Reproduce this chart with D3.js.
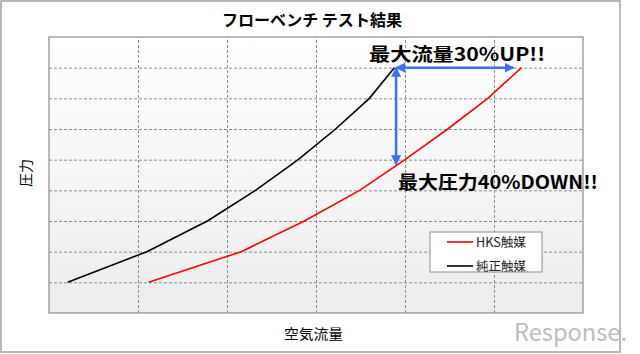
<!DOCTYPE html>
<html lang="ja">
<head>
<meta charset="UTF-8">
<title>フローベンチ テスト結果</title>
<script src="https://cdn.jsdelivr.net/npm/d3@7"></script>
<style>
  body { margin: 0; background: #fff; }
  text { font-family: "Noto Sans CJK JP", "Noto Sans", sans-serif; }
</style>
</head>
<body>
<script>
// データ (グラフから読み取り: x=空気流量, y=圧力, 任意単位)
const seriesNames = ["HKS触媒", "純正触媒"];
const seriesColors = ["#ff0000", "#000000"];
const hksX  = [1.12, 2.16, 2.87, 3.49, 4.0, 4.48, 4.93, 5.31];
const hksY  = [1, 2, 3, 4, 5, 6, 7, 8];
const stdX  = [0.21, 1.1, 1.78, 2.32, 2.8, 3.22, 3.6, 3.88];
const stdY  = [1, 2, 3, 4, 5, 6, 7, 8];
const xTicks = [0, 1, 2, 3, 4, 5, 6];
const yTicks = [0, 1, 2, 3, 4, 5, 6, 7, 8, 9];
// 矢印: 最大流量 / 最大圧力
const flowArrow = {x0: 3.9, x1: 5.22, y: 8};
const pressArrow = {x: 3.9, y0: 8, y1: 4.85};

const width = 640, height = 354;
const margin = {top: 37, right: 57, bottom: 41, left: 49};

const svg = d3.select("body").append("svg")
  .attr("width", width).attr("height", height);

const defs = svg.append("defs");
const grad = defs.append("linearGradient").attr("id", "bg")
  .attr("x1", 0).attr("y1", 0).attr("x2", 0).attr("y2", 1);
grad.append("stop").attr("offset", "0%").attr("stop-color", "#ffffff");
grad.append("stop").attr("offset", "100%").attr("stop-color", "#ececec");

const mk = defs.append("marker").attr("id", "ah")
  .attr("viewBox", "0 0 10 10").attr("refX", 9).attr("refY", 5)
  .attr("markerWidth", 4).attr("markerHeight", 4).attr("orient", "auto-start-reverse");
mk.append("path").attr("d", "M0,0L10,5L0,10z").attr("fill", "#3d6ff5");

// 外枠
svg.append("rect").attr("x", 1).attr("y", 1).attr("width", 619).attr("height", 351)
  .attr("fill", "#fff").attr("stroke", "#a0a0a0").attr("stroke-width", 1.5);

const x = d3.scaleLinear().domain([0, 6]).range([margin.left, width - margin.right]);
const y = d3.scaleLinear().domain([0, 9]).range([height - margin.bottom, margin.top]);

// プロット背景
svg.append("rect")
  .attr("x", x(0)).attr("y", y(9))
  .attr("width", x(6) - x(0)).attr("height", y(0) - y(9))
  .attr("fill", "url(#bg)");

// グリッド
svg.append("g")
  .attr("transform", `translate(0,${y(0)})`)
  .call(d3.axisBottom(x).tickValues(xTicks.slice(1, -1))
    .tickSize(-(y(0) - y(9))).tickFormat(() => null))
  .call(g => g.select(".domain").remove())
  .call(g => g.selectAll(".tick line").attr("stroke", "#8c8c8c").attr("stroke-dasharray", "3,2"));

svg.append("g")
  .attr("transform", `translate(${x(0)},0)`)
  .call(d3.axisLeft(y).tickValues(yTicks.slice(1, -1))
    .tickSize(-(x(6) - x(0))).tickFormat(() => null))
  .call(g => g.select(".domain").remove())
  .call(g => g.selectAll(".tick line").attr("stroke", "#8c8c8c").attr("stroke-dasharray", "3,2"));

svg.append("rect")
  .attr("x", x(0)).attr("y", y(9))
  .attr("width", x(6) - x(0)).attr("height", y(0) - y(9))
  .attr("fill", "none").attr("stroke", "#8c8c8c").attr("stroke-width", 1.2);

// 線
const line = d3.line().x(d => x(d[0])).y(d => y(d[1]));
const series = [d3.zip(hksX, hksY), d3.zip(stdX, stdY)];
svg.selectAll(".series").data(series).join("path")
  .attr("class", "series")
  .attr("d", line)
  .attr("fill", "none")
  .attr("stroke", (d, i) => seriesColors[i])
  .attr("stroke-width", 1.6);

// 矢印
svg.append("line")
  .attr("x1", x(flowArrow.x0)).attr("x2", x(flowArrow.x1))
  .attr("y1", y(flowArrow.y)).attr("y2", y(flowArrow.y))
  .attr("stroke", "#3d6ff5").attr("stroke-width", 2.5)
  .attr("marker-start", "url(#ah)").attr("marker-end", "url(#ah)");
svg.append("line")
  .attr("x1", x(pressArrow.x)).attr("x2", x(pressArrow.x))
  .attr("y1", y(pressArrow.y0)).attr("y2", y(pressArrow.y1))
  .attr("stroke", "#3d6ff5").attr("stroke-width", 2.5)
  .attr("marker-start", "url(#ah)").attr("marker-end", "url(#ah)");

// テキスト
svg.append("text").attr("x", 222).attr("y", 26)
  .attr("font-size", 16).attr("font-weight", "bold")
  .attr("textLength", 180).attr("lengthAdjust", "spacingAndGlyphs")
  .text("フローベンチ テスト結果");

svg.append("text").attr("x", 369).attr("y", 61)
  .attr("font-size", 18).attr("font-weight", "bold")
  .attr("textLength", 176).attr("lengthAdjust", "spacingAndGlyphs")
  .text("最大流量30%UP!!");
svg.append("text").attr("x", 398).attr("y", 189)
  .attr("font-size", 18).attr("font-weight", "bold")
  .attr("textLength", 200).attr("lengthAdjust", "spacingAndGlyphs")
  .text("最大圧力40%DOWN!!");

svg.append("text").attr("x", 284).attr("y", 339)
  .attr("font-size", 14)
  .attr("textLength", 59).attr("lengthAdjust", "spacingAndGlyphs")
  .text("空気流量");

svg.append("text")
  .attr("transform", "translate(31,173) rotate(-90)")
  .attr("text-anchor", "middle").attr("font-size", 14)
  .text("圧力");

// 凡例
const lg = svg.append("g").attr("transform", "translate(430,232)");
lg.append("rect").attr("width", 112).attr("height", 40)
  .attr("fill", "#fff").attr("stroke", "#8c8c8c");
seriesNames.forEach((n, i) => {
  const gy = 10 + i * 24;
  lg.append("line").attr("x1", 17).attr("x2", 43).attr("y1", gy).attr("y2", gy)
    .attr("stroke", seriesColors[i]).attr("stroke-width", 1.6);
  lg.append("text").attr("x", 46).attr("y", gy + 4.5)
    .attr("font-size", 12.5).attr("fill", "#222")
    .attr("textLength", 50).attr("lengthAdjust", "spacingAndGlyphs").text(n);
});

// ウォーターマーク
svg.append("text").attr("x", 514).attr("y", 341)
  .attr("font-size", 24)
  .attr("textLength", 113).attr("lengthAdjust", "spacingAndGlyphs")
  .attr("fill", "#bdbdbd").attr("font-family", "DejaVu Sans").text("Response.");
</script>
</body>
</html>
